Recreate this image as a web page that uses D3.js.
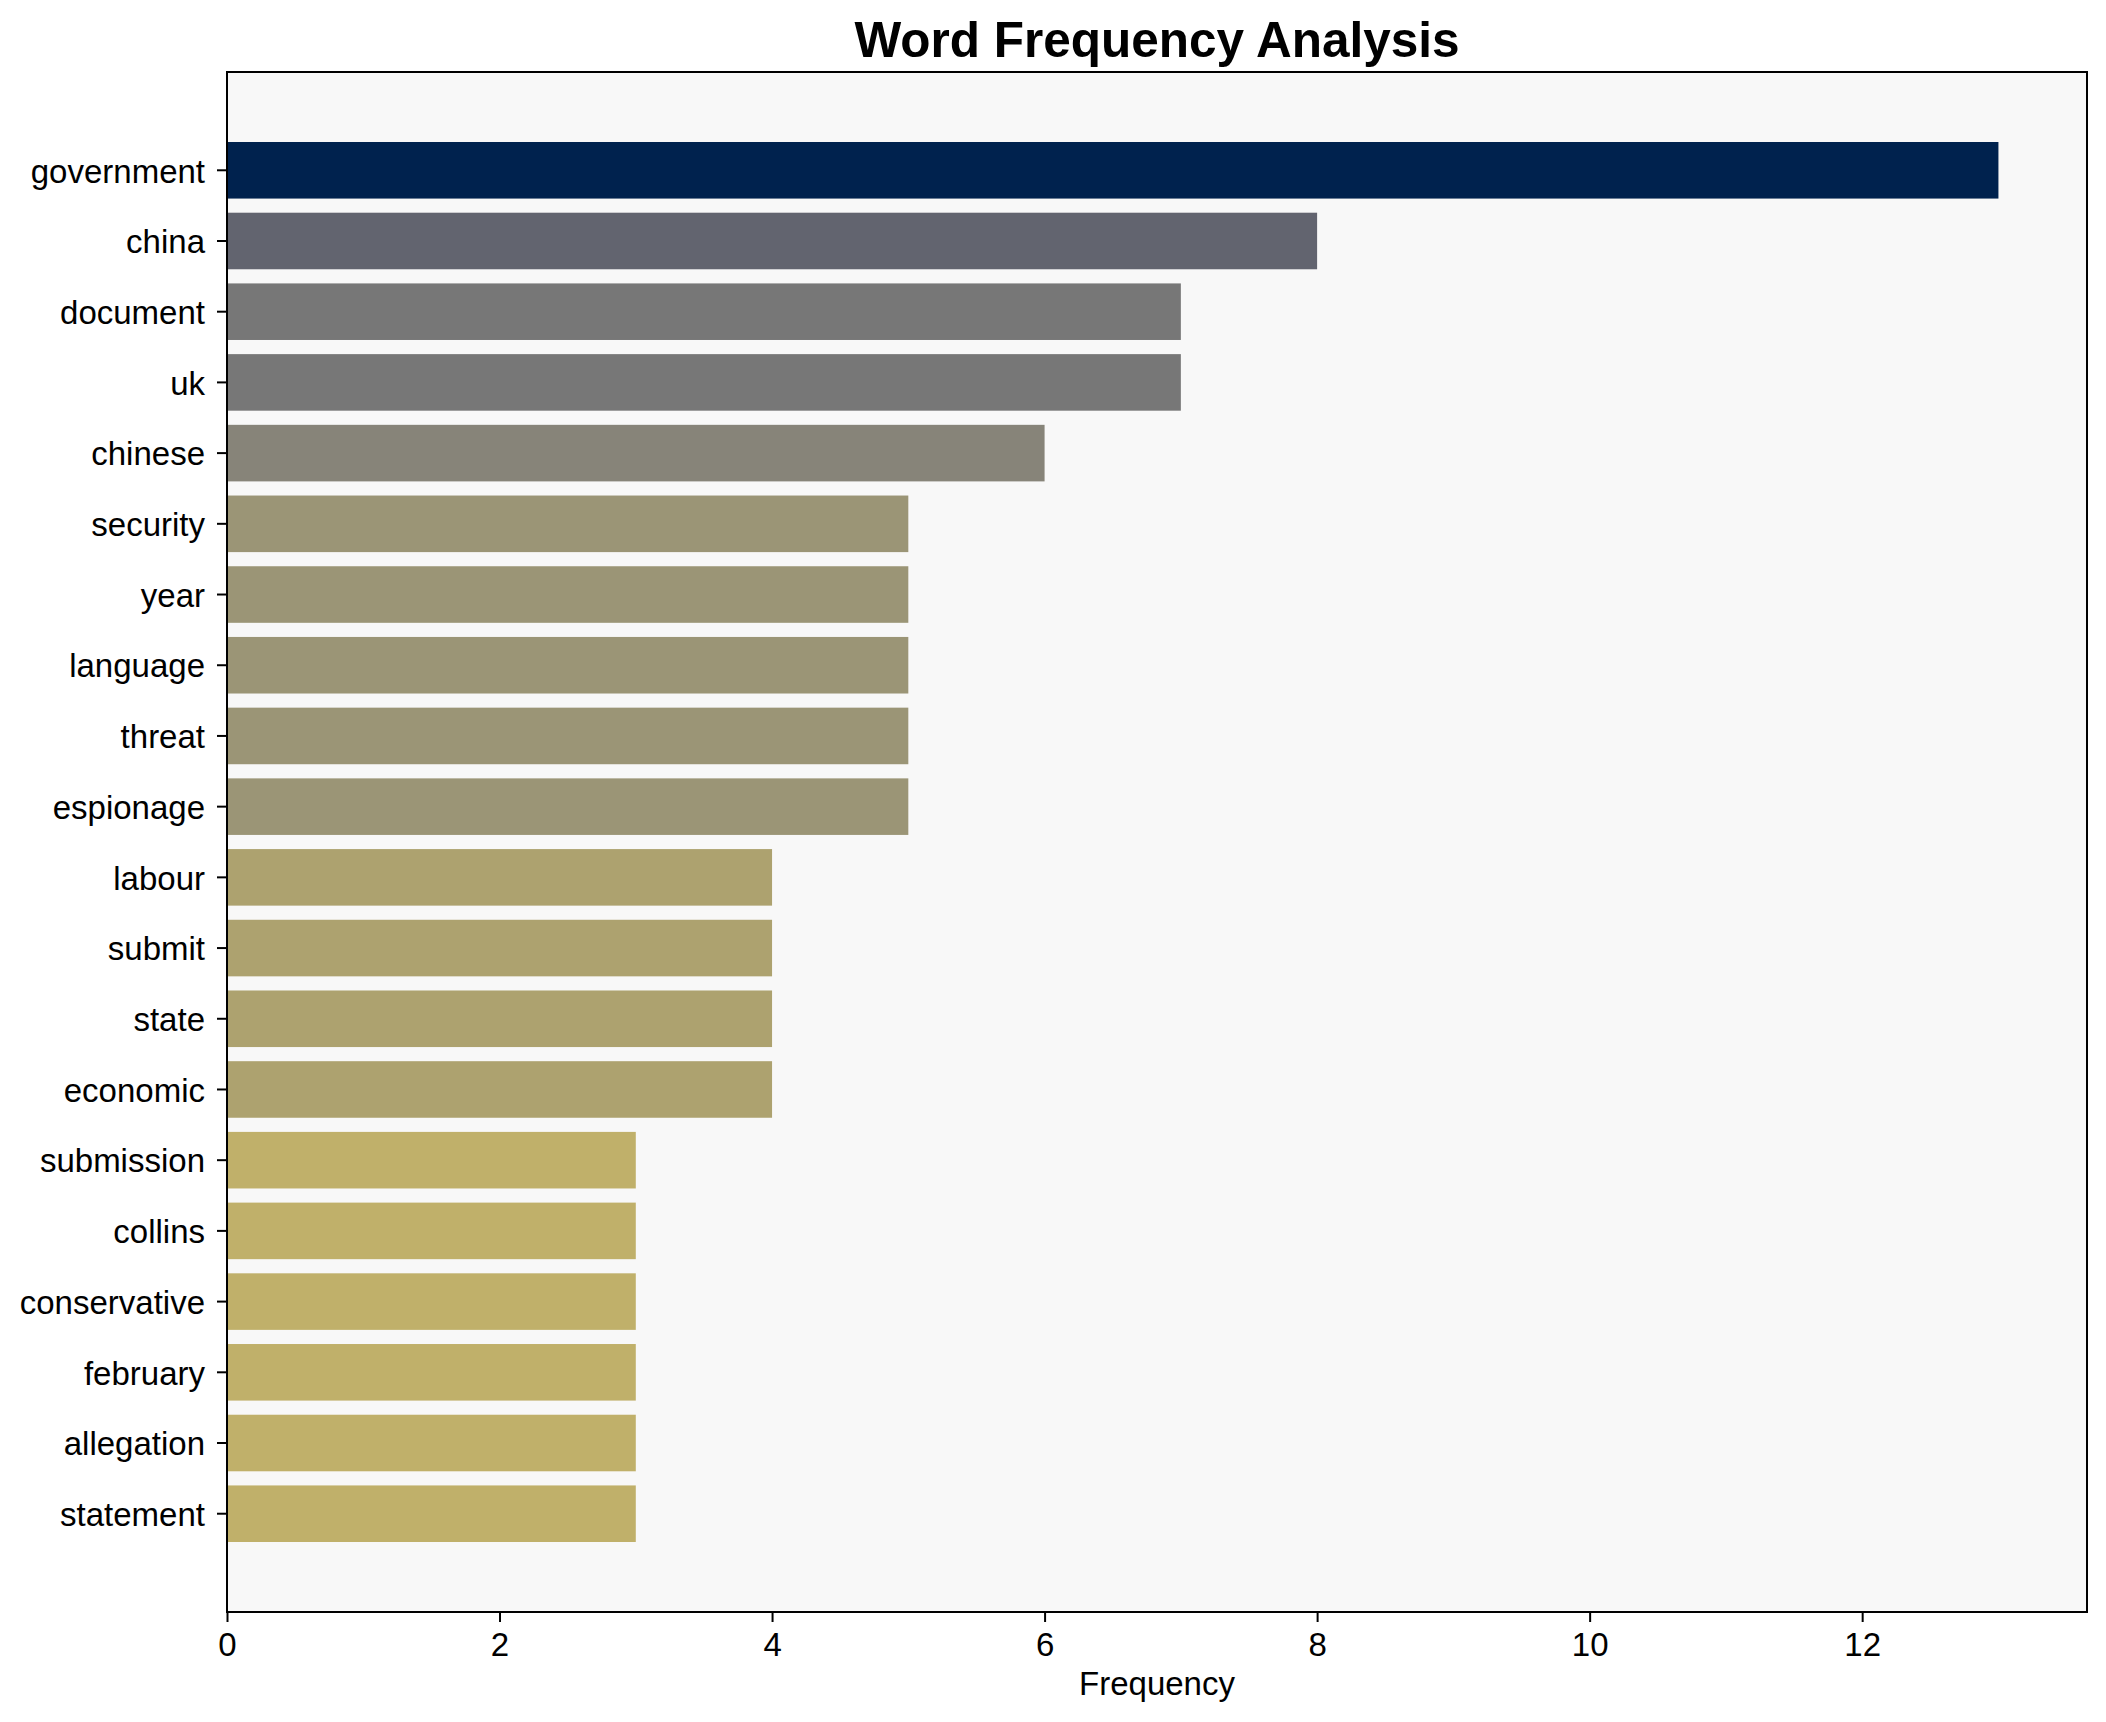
<!DOCTYPE html>
<meta charset="utf-8">
<script src="https://d3js.org/d3.v7.min.js"></script>
<style>
  body { margin: 0; background: #fff; }
  text { font-family: "Liberation Sans", Arial, sans-serif; fill: #000; }
  .tick line { stroke: #000; stroke-width: 2; }
</style>
<div id="my_dataviz"></div>
<script>

    // data
    var words = ["government", "china", "document", "uk", "chinese", "security", "year",
                 "language", "threat", "espionage", "labour", "submit", "state", "economic",
                 "submission", "collins", "conservative", "february", "allegation", "statement"];
    var counts = [13, 8, 7, 7, 6, 5, 5, 5, 5, 5, 4, 4, 4, 4, 3, 3, 3, 3, 3, 3];
    var xTicks = [0, 2, 4, 6, 8, 10, 12];

    // one colour per count level
    var levels = [13, 8, 7, 6, 5, 4, 3];
    var levelColors = ["#00224e", "#62646f", "#777777", "#878479", "#9b9576", "#ada26f", "#c0b06a"];

    var W = 2106, H = 1722;
    var margin = {top: 72, right: 19, bottom: 110, left: 227},
        width = W - margin.left - margin.right,
        height = H - margin.top - margin.bottom;

    var svg = d3.select("#my_dataviz")
      .append("svg")
        .attr("width", W)
        .attr("height", H);

    var g = svg.append("g")
        .attr("transform", "translate(" + margin.left + "," + margin.top + ")");

    // plot background
    g.append("rect")
      .attr("width", width)
      .attr("height", height)
      .attr("fill", "#f8f8f8");

    var x = d3.scaleLinear()
      .domain([0, d3.max(counts) * 1.05])
      .range([0, width]);

    var y = d3.scaleBand()
      .domain(words)
      .range([0, height])
      .paddingInner(0.2)
      .paddingOuter(0.99);

    var color = d3.scaleOrdinal().domain(levels).range(levelColors);

    var data = words.map(function(w, i) { return {word: w, count: counts[i]}; });

    g.selectAll(".bar")
      .data(data)
      .enter()
      .append("rect")
        .attr("class", "bar")
        .attr("x", x(0))
        .attr("y", function(d) { return y(d.word); })
        .attr("width", function(d) { return x(d.count) - x(0); })
        .attr("height", y.bandwidth())
        .attr("fill", function(d) { return color(d.count); });

    // Y axis
    var yAxis = g.append("g")
      .call(d3.axisLeft(y).tickSize(10).tickPadding(12));
    yAxis.select(".domain").remove();
    yAxis.selectAll("text").attr("font-size", "33px").attr("dy", "0.37em");

    // X axis
    var xAxis = g.append("g")
      .attr("transform", "translate(0," + height + ")")
      .call(d3.axisBottom(x).tickValues(xTicks).tickSize(10).tickPadding(11));
    xAxis.select(".domain").remove();
    xAxis.selectAll("text").attr("font-size", "33px");

    // frame
    g.append("rect")
      .attr("width", width)
      .attr("height", height)
      .attr("fill", "none")
      .attr("stroke", "#000")
      .attr("stroke-width", 2);

    // title
    svg.append("text")
      .attr("x", margin.left + width / 2)
      .attr("y", 57)
      .attr("text-anchor", "middle")
      .attr("font-size", "49.5px")
      .attr("font-weight", "bold")
      .text("Word Frequency Analysis");

    // X axis label
    svg.append("text")
      .attr("x", margin.left + width / 2)
      .attr("y", 1695)
      .attr("text-anchor", "middle")
      .attr("font-size", "33px")
      .text("Frequency");

</script>
